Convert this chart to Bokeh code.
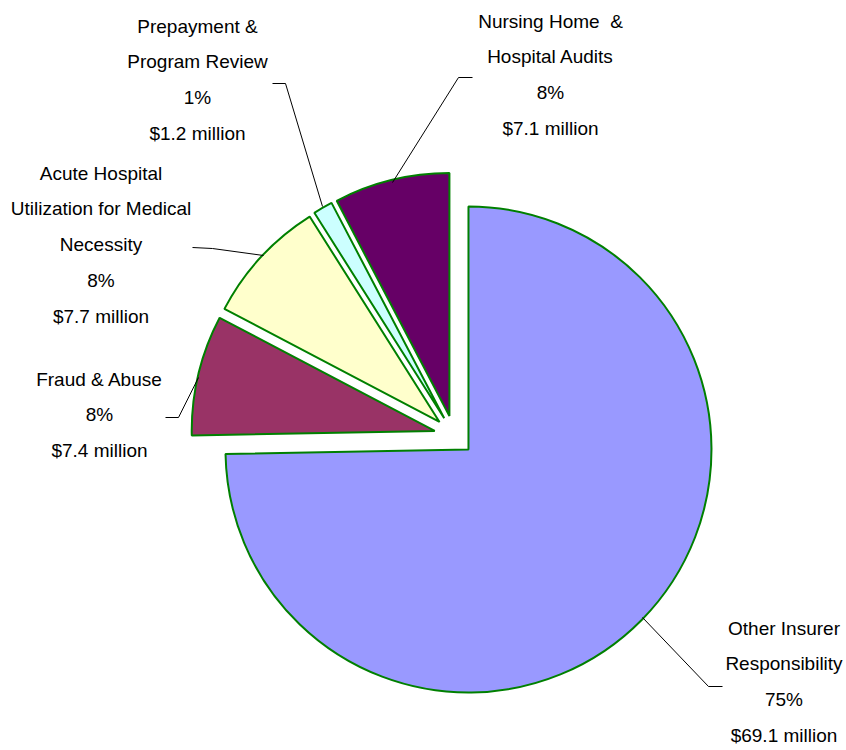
import math
from bokeh.plotting import figure
from bokeh.models import Range1d, ColumnDataSource
from bokeh.core.properties import value
from bokeh.embed import file_html
from bokeh.resources import INLINE

# ---- data ----
categories = [
    "Other Insurer Responsibility",
    "Fraud & Abuse",
    "Acute Hospital Utilization for Medical Necessity",
    "Prepayment & Program Review",
    "Nursing Home  & Hospital Audits",
]
label_lines = [
    ["Other Insurer", "Responsibility"],
    ["Fraud & Abuse"],
    ["Acute Hospital", "Utilization for Medical", "Necessity"],
    ["Prepayment &", "Program Review"],
    ["Nursing Home\u00a0 &", "Hospital Audits"],
]
amounts = [69.1, 7.4, 7.7, 1.2, 7.1]  # $ million
colors = ["#9999FF", "#993366", "#FFFFCC", "#CCFFFF", "#660066"]

# ---- layout (screen-pixel style coordinates; y measured from picture top) ----
W, H = 846, 750
CX, CY = 453.7, 435.0      # pie centre (screen)
R = 243.0                   # radius
EXPLODE = 20.0              # explode distance

# label anchor: centre x, first text line y (screen), line spacing
label_pos = [(783.5, 627.5), (99, 378.5), (100.5, 172.5), (197, 25.5), (550, 20.5)]
LINE_STEP = 35.8
leaders = [
    [(722, 686), (708, 686), (642, 617)],
    [(165, 417), (178, 417), (198, 377)],
    [(192, 247), (212, 248), (263, 255)],
    [(272, 83), (285, 83), (322, 206)],
    [(472, 77), (458, 77), (392, 182)],
]

def sy(y):
    return H - y

total = sum(amounts)
start_deg, end_deg = [], []
acc = 0.0
for a in amounts:
    start_deg.append(acc / total * 360.0)
    acc += a
    end_deg.append(acc / total * 360.0)

xs, ys, sa, ea = [], [], [], []
for s, e in zip(start_deg, end_deg):
    mid = math.radians((s + e) / 2.0)
    xs.append(CX + EXPLODE * math.sin(mid))
    ys.append(sy(CY) + EXPLODE * math.cos(mid))
    sa.append(math.radians(90.0 - s))
    ea.append(math.radians(90.0 - e))

src = ColumnDataSource(dict(x=xs, y=ys, sa=sa, ea=ea, color=colors))

p = figure(width=W, height=H, x_range=Range1d(0, W), y_range=Range1d(0, H),
           output_backend="svg", toolbar_location=None, min_border=0,
           x_axis_location=None, y_axis_location=None, outline_line_color=None,
           background_fill_color="white", border_fill_color="white")
p.xgrid.visible = False
p.ygrid.visible = False

p.wedge(x="x", y="y", radius=R, start_angle="sa", end_angle="ea", direction="clock",
        fill_color="color", line_color="#008000", line_width=2, source=src)

p.multi_line(xs=[[pt[0] for pt in L] for L in leaders],
             ys=[[sy(pt[1]) for pt in L] for L in leaders],
             line_color="black", line_width=1)

tx, ty, tt = [], [], []
for i, lines in enumerate(label_lines):
    pct = round(amounts[i] / total * 100)
    full = lines + [f"{pct}%", f"${amounts[i]:.1f} million"]
    x0, y0 = label_pos[i]
    for k, line in enumerate(full):
        tx.append(x0)
        ty.append(sy(y0 + k * LINE_STEP))
        tt.append(line)

p.text(x=tx, y=ty, text=tt, text_font=value("Liberation Sans"), text_font_size="19px",
       text_align="center", text_baseline="alphabetic", text_color="black")

open("out.html", "w").write(file_html(p, INLINE))
